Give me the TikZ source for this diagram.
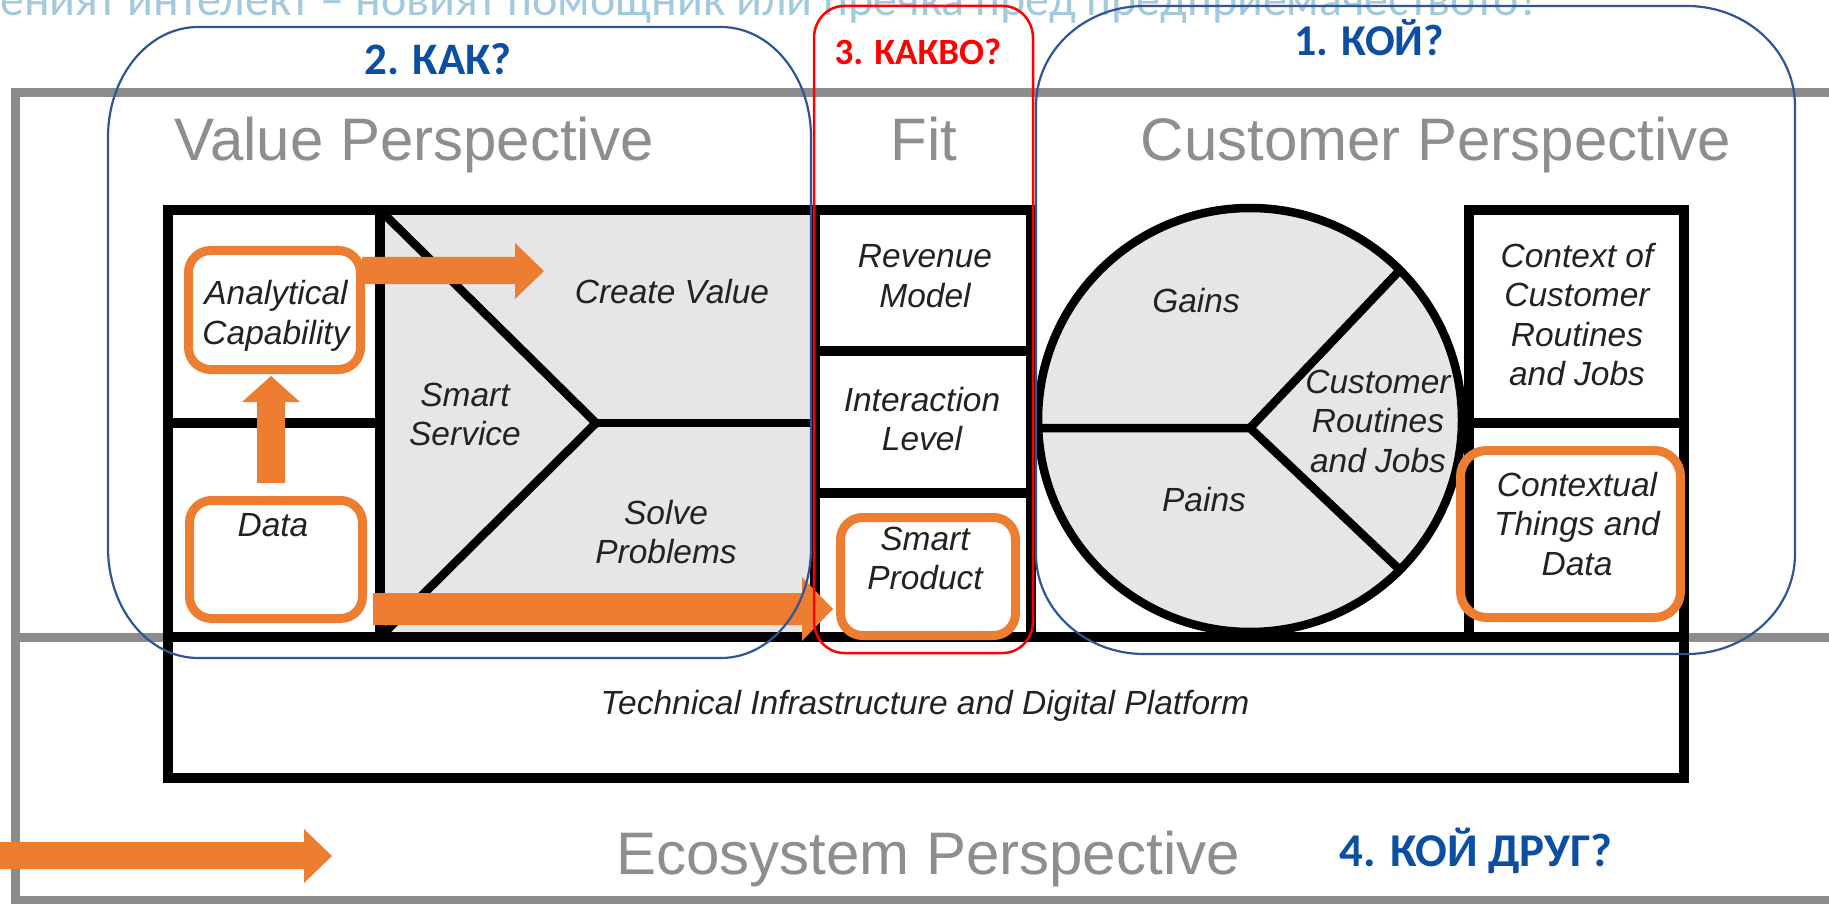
\documentclass[tikz,border=0pt]{standalone}
\usepackage{fontspec}
\setmainfont{Liberation Sans}
\newfontfamily\calibf{Carlito}
\definecolor{frameg}{HTML}{8C8C8C}
\definecolor{titleg}{HTML}{8E8E8E}
\definecolor{panelg}{HTML}{E6E6E6}
\definecolor{orng}{HTML}{ED7D31}
\definecolor{bluefr}{HTML}{2F5597}
\definecolor{bluetx}{HTML}{0B4EA2}
\definecolor{redfr}{HTML}{FF0000}
\definecolor{toptx}{HTML}{A3C9DA}
\definecolor{labtx}{HTML}{222222}
\newcommand{\mlines}[1]{\begin{tabular}[t]{@{}c@{}}#1\end{tabular}}
\newcommand{\roundframe}[7]{\draw[#1] (#2,#3+#7) .. controls (#2,#3+0.448*#7) and (#2+0.448*#6,#3) .. (#2+#6,#3) -- (#4-#6,#3) .. controls (#4-0.448*#6,#3) and (#4,#3+0.448*#7) .. (#4,#3+#7) -- (#4,#5-#7) .. controls (#4,#5-0.448*#7) and (#4-0.448*#6,#5) .. (#4-#6,#5) -- (#2+#6,#5) .. controls (#2+0.448*#6,#5) and (#2,#5-0.448*#7) .. (#2,#5-#7) -- cycle;}
\tikzset{
  frameline/.style={draw=frameg, line width=9pt},
  bline/.style={draw=black, line width=10pt, line join=miter},
  cline/.style={draw=black, line width=8.5pt},
  persp/.style={font=\fontsize{60}{66}\selectfont, text=titleg, inner sep=0pt, anchor=base},
  lab/.style={font=\fontsize{33.5}{39.5}\selectfont\itshape, text=labtx, inner sep=0pt, anchor=base},
  head/.style={font=\calibf\bfseries\fontsize{45}{50}\selectfont, text=bluetx, inner sep=0pt, anchor=base},
  obox/.style={draw=orng, line width=9pt, rounded corners=22pt},
  oarrow/.style={fill=orng},
  bfr/.style={draw=bluefr, line width=2.2pt},
  rfr/.style={draw=redfr, line width=2.5pt},
}
\begin{document}
\begin{tikzpicture}[x=1pt,y=-1pt]
\useasboundingbox (0,0) rectangle (1829,904);
\clip (0,0) rectangle (1829,904);

% clipped title line at the top
\node[font=\calibf\fontsize{48}{52}\selectfont, text=toptx, inner sep=0pt, anchor=base east] (title) at (1541,16) {Изкуственият интелект – новият помощник или пречка пред предприемачеството?};

% gray outer frame
\draw[frameline] (1840,93) -- (15,93) -- (15,900) -- (1840,900);
\draw[frameline] (15,637) -- (1840,637);

% gray panels
\fill[panelg] (380,210) rectangle (815,637);
\draw[cline, fill=panelg] (1250,420) circle[radius=212];

% black business model structure
\draw[bline] (168,210) rectangle (1031,637);
\draw[bline] (380,210) -- (380,637);
\draw[bline] (168,423) -- (380,423);
\draw[bline] (815,210) -- (815,637);
\draw[bline] (815,351) -- (1031,351);
\draw[bline] (815,493) -- (1031,493);
\draw[cline] (380,210) -- (596,423) -- (380,637);
\draw[cline] (596,423) -- (815,423);
\draw[cline] (1038,428) -- (1250,428) -- (1400,270);
\draw[cline] (1250,428) -- (1400,570);
\draw[bline] (1469,210) rectangle (1684,637);
\draw[bline] (1469,423) -- (1684,423);
\draw[bline] (168,637) rectangle (1684,778);

% perspective titles
\node[persp] (vp) at (414,161) {Value Perspective};
\node[persp] (fit) at (924,161) {Fit};
\node[persp] (cp) at (1436,161) {Customer Perspective};
\node[persp] (ep) at (928,874) {Ecosystem Perspective};

% labels
\node[lab] (anal) at (276,305) {\mlines{Analytical\\Capability}};
\node[lab] (data) at (273,536) {\mlines{Data}};
\node[lab] (ss) at (465,406) {\mlines{Smart\\Service}};
\node[lab] (cv) at (672,303) {\mlines{Create Value}};
\node[lab] (sp) at (666,524) {\mlines{Solve\\Problems}};
\node[lab] (rm) at (925,268) {\mlines{Revenue\\Model}};
\node[lab] (il) at (922,411) {\mlines{Interaction\\Level}};
\node[lab] (spr) at (925,550) {\mlines{Smart\\Product}};
\node[lab] (gains) at (1196,312) {\mlines{Gains}};
\node[lab] (pains) at (1204,511) {\mlines{Pains}};
\node[lab] (crj) at (1378,393) {\mlines{Customer\\Routines\\and Jobs}};
\node[lab] (ctx) at (1577,267) {\mlines{Context of\\Customer\\Routines\\and Jobs}};
\node[lab] (ctd) at (1577,496) {\mlines{Contextual\\Things and\\Data}};
\node[lab] (tech) at (925,714) {\mlines{Technical Infrastructure and Digital Platform}};

% orange highlight boxes
\draw[obox] (188.5,250.5) rectangle (360.5,369.5);
\draw[obox] (189.5,500.5) rectangle (362.5,618.5);
\draw[obox] (840.5,517.5) rectangle (1015.5,635.5);
\draw[obox, rounded corners=26pt] (1460.5,450.5) rectangle (1680.5,617.5);

% orange block arrows
\fill[oarrow] (362,257) -- (515,257) -- (515,243) -- (544,271) -- (515,299) -- (515,284) -- (362,284) -- cycle;
\fill[oarrow] (373,593) -- (802,593) -- (802,577) -- (833,609) -- (802,641) -- (802,625) -- (373,625) -- cycle;
\fill[oarrow] (257,483) -- (257,402) -- (242,402) -- (271,376) -- (300,402) -- (285,402) -- (285,483) -- cycle;
\fill[oarrow] (-5,842) -- (304,842) -- (304,829) -- (332,856) -- (304,883) -- (304,869) -- (-5,869) -- cycle;

% grouping frames
\roundframe{bfr}{108}{27}{811}{658}{90}{110}
\roundframe{rfr}{814}{6}{1033}{653}{30}{32}
\roundframe{bfr}{1036}{6}{1795}{654}{108}{100}

% questions
\node[head] (how) at (438,75) {2. КАК?};
\node[head, text=redfr, font=\calibf\bfseries\fontsize{37}{42}\selectfont] (what) at (918,65) {3. КАКВО?};
\node[head, font=\calibf\bfseries\fontsize{44}{50}\selectfont] (who) at (1369,56) {1. КОЙ?};
\node[head, font=\calibf\bfseries\fontsize{47}{52}\selectfont] (friend) at (1476,866) {4. КОЙ ДРУГ?};
\end{tikzpicture}
\end{document}
